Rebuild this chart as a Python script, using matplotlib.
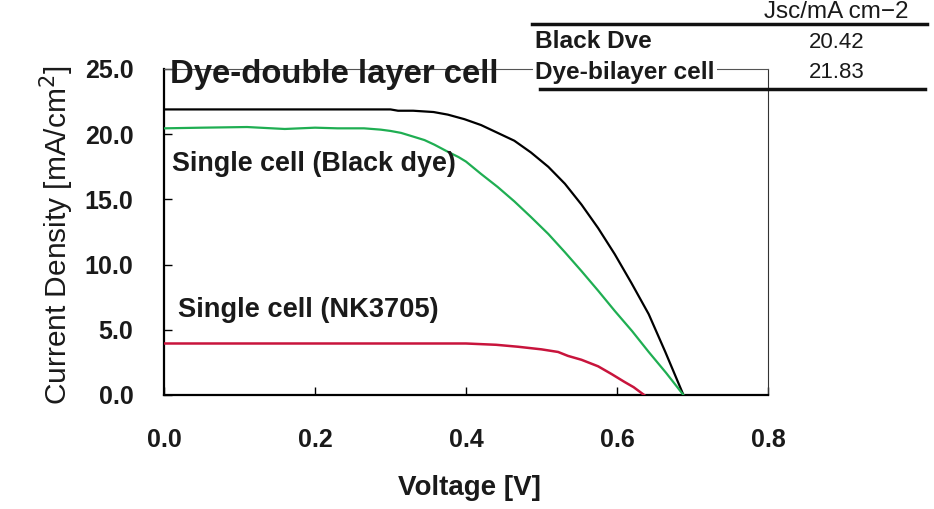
import matplotlib
matplotlib.use("Agg")
import matplotlib.pyplot as plt
from matplotlib.lines import Line2D

plt.rcParams['font.family'] = ['Liberation Sans', 'DejaVu Sans']

# ---- data ----
v_bilayer = [0.0, 0.10, 0.20, 0.30, 0.31, 0.33, 0.357, 0.376, 0.398, 0.42, 0.442, 0.464,
             0.486, 0.509, 0.531, 0.553, 0.575, 0.597, 0.619, 0.642, 0.664, 0.688]
j_bilayer = [21.9, 21.9, 21.9, 21.9, 21.8, 21.8, 21.7, 21.5, 21.15, 20.7, 20.1, 19.5,
             18.6, 17.5, 16.2, 14.6, 12.8, 10.8, 8.6, 6.2, 3.3, 0.0]

v_black = [0.0, 0.05, 0.11, 0.16, 0.20, 0.23, 0.265, 0.287, 0.300, 0.314, 0.331, 0.345,
           0.358, 0.376, 0.39, 0.40, 0.42, 0.442, 0.464, 0.486, 0.509, 0.531, 0.553,
           0.575, 0.597, 0.62, 0.642, 0.665, 0.688]
j_black = [20.45, 20.5, 20.55, 20.4, 20.5, 20.45, 20.45, 20.35, 20.25, 20.1, 19.8, 19.55,
           19.2, 18.65, 18.25, 17.9, 16.95, 15.95, 14.85, 13.65, 12.35, 10.95, 9.5,
           8.0, 6.45, 4.9, 3.3, 1.7, 0.0]

v_nk = [0.0, 0.10, 0.20, 0.30, 0.40, 0.44, 0.469, 0.50, 0.522, 0.535, 0.553, 0.575,
        0.593, 0.61, 0.622, 0.636]
j_nk = [3.95, 3.95, 3.95, 3.95, 3.95, 3.85, 3.7, 3.5, 3.3, 3.0, 2.7, 2.2,
        1.6, 1.0, 0.6, 0.0]

x_ticks = [0.0, 0.2, 0.4, 0.6, 0.8]
y_ticks = [0.0, 5.0, 10.0, 15.0, 20.0, 25.0]

table_header = "Jsc/mA cm\u22122"
table_rows = ["Black Dve", "Dye-bilayer cell"]
table_values = ["20.42", "21.83"]

W, H = 934, 509
fig = plt.figure(figsize=(W / 100, H / 100), dpi=100)
ax = fig.add_axes([164 / W, 1 - 395 / H, (768 - 164) / W, (395 - 69) / H])

ax.plot(v_bilayer, j_bilayer, color='black', lw=1.6, zorder=3)
ax.plot(v_black, j_black, color='#1fae52', lw=1.6, zorder=3)
ax.plot(v_nk, j_nk, color='#c8143c', lw=1.8, zorder=3)

ax.set_xlim(0, 0.8)
ax.set_ylim(0, 25)
ax.set_xticks(x_ticks)
ax.set_yticks(y_ticks)
ax.set_xticklabels([f"{t:.1f}" for t in x_ticks])
ax.set_yticklabels([f"{t:.1f}" for t in y_ticks])
ax.tick_params(direction='in', length=6, width=1, labelsize=18, colors='black')
ax.tick_params(axis='x', pad=24)
ax.tick_params(axis='y', pad=22)
for lab in ax.get_xticklabels() + ax.get_yticklabels():
    lab.set_fontweight('bold')
    lab.set_color('#1a1a1a')

ax.spines['left'].set_linewidth(1.6)
ax.spines['bottom'].set_linewidth(1.6)
ax.spines['top'].set_linewidth(0.8)
ax.spines['top'].set_color('#555555')
ax.spines['right'].set_linewidth(0.8)
ax.spines['right'].set_color('#333333')

ax.set_xlabel("Voltage [V]", fontsize=20, fontweight='bold', color='#1a1a1a')
ax.xaxis.set_label_coords(0.505, -0.245)
ax.set_ylabel("Current Density [mA/cm$^2$]", fontsize=21.5, color='#1a1a1a')
ax.yaxis.set_label_coords(-0.145, 0.49)

ax.text(0.008, 24.6, "Dye-double layer cell", fontsize=23.7, fontweight='bold',
        ha='left', va='center', color='#1a1a1a', clip_on=False, zorder=5)
ax.text(0.011, 17.7, "Single cell (Black dye)", fontsize=19.4, fontweight='bold',
        ha='left', va='center', color='#1a1a1a')
ax.text(0.019, 6.5, "Single cell (NK3705)", fontsize=19.6, fontweight='bold',
        ha='left', va='center', color='#1a1a1a')

# ---- table at top right (figure pixel coords) ----
def fx(px):
    return px / W

def fy(py):
    return 1 - py / H

fig.text(fx(908), fy(12), table_header, fontsize=17.5, ha='right', va='center', color='#1a1a1a')
fig.add_artist(Line2D([fx(532), fx(927)], [fy(24), fy(24)], color='#111111', lw=2.5))
fig.add_artist(Line2D([fx(540), fx(925)], [fy(89), fy(89)], color='#111111', lw=2.5))
row_y = [42, 73]
for name, val, yy in zip(table_rows, table_values, row_y):
    fig.text(fx(535), fy(yy), name, fontsize=17.6, fontweight='bold', ha='left', va='center',
             color='#1a1a1a', bbox=dict(facecolor='white', edgecolor='none', pad=1.5), zorder=6)
    fig.text(fx(837), fy(yy), val, fontsize=16, ha='center', va='center', color='#1a1a1a')

fig.savefig("out.png", dpi=100, facecolor='white')
